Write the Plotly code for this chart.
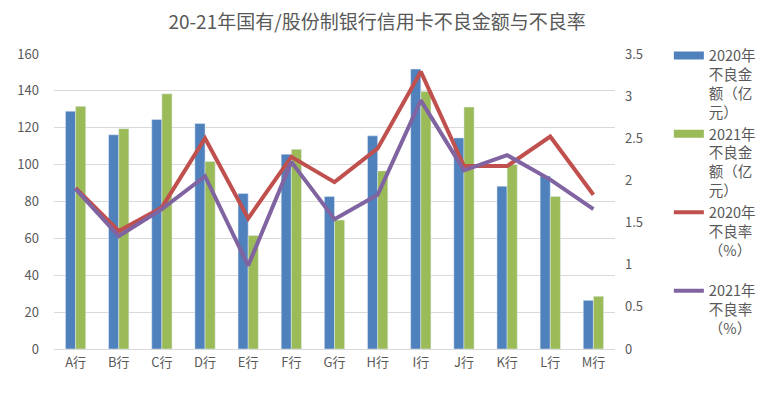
import plotly.graph_objects as go

categories = ["A行", "B行", "C行", "D行", "E行", "F行", "G行", "H行", "I行", "J行", "K行", "L行", "M行"]
amount_2020 = [129, 116.2, 124.5, 122.3, 84.4, 105.6, 82.7, 115.6, 151.8, 114.5, 88.3, 93.8, 26.4]
amount_2021 = [131.6, 119.5, 138.4, 101.7, 61.5, 108.3, 69.9, 96.6, 139.6, 131.2, 100, 82.7, 28.6]
rate_2020 = [1.91, 1.40, 1.68, 2.50, 1.55, 2.28, 1.98, 2.38, 3.29, 2.17, 2.17, 2.52, 1.83]
rate_2021 = [1.90, 1.34, 1.66, 2.05, 0.99, 2.22, 1.54, 1.83, 2.95, 2.12, 2.30, 2.01, 1.66]

names = ["2020年<br>不良金<br>额（亿<br>元）", "2021年<br>不良金<br>额（亿<br>元）",
         "2020年<br>不良率<br>（%）<br> ", "2021年<br>不良率<br>（%）"]

BLUE, GREEN, RED, PURPLE = "#4f81bd", "#9bbb59", "#c0504d", "#8064a2"
GRAY = "#595959"

fig = go.Figure()
fig.add_trace(go.Bar(x=categories, y=amount_2020, marker_color=BLUE, showlegend=False, yaxis="y"))
fig.add_trace(go.Bar(x=categories, y=amount_2021, marker_color=GREEN, showlegend=False, yaxis="y"))
fig.add_trace(go.Scatter(x=categories, y=rate_2020, mode="lines", line=dict(color=RED, width=4),
                         showlegend=False, yaxis="y2"))
fig.add_trace(go.Scatter(x=categories, y=rate_2021, mode="lines", line=dict(color=PURPLE, width=4),
                         showlegend=False, yaxis="y2"))

# legend entries
for nm, col, w in zip(names, [BLUE, GREEN, RED, PURPLE], [8, 8, 4, 4]):
    fig.add_trace(go.Scatter(x=[None], y=[None], mode="lines", name=nm,
                             line=dict(color=col, width=w), yaxis="y2"))

# page body has an 8px margin; figure is sized/offset to compensate
fig.update_layout(
    width=757, height=386,
    margin=dict(l=46, r=150, t=46, b=45, autoexpand=False),
    paper_bgcolor="white", plot_bgcolor="white",
    title=dict(text="20-21年国有/股份制银行信用卡不良金额与不良率", x=0.4875, xanchor="center",
               y=0.964, yanchor="middle",
               font=dict(family="Noto Sans CJK SC", size=19, color=GRAY)),
    font=dict(family="Noto Sans CJK SC", size=13, color=GRAY),
    barmode="group", bargap=0.53, bargroupgap=0,
    xaxis=dict(showgrid=False, showline=True, linecolor="#d9d9d9", linewidth=1,
               ticks="", tickfont=dict(size=13, color=GRAY), ticklabelstandoff=1),
    yaxis=dict(range=[0, 160], dtick=20, showgrid=True, gridcolor="#d9d9d9", gridwidth=1,
               zeroline=False, showline=False, ticks="", tickfont=dict(size=13, color=GRAY),
               ticklabelstandoff=14),
    yaxis2=dict(range=[0, 3.5], dtick=0.5, overlaying="y", side="right", showgrid=False,
                zeroline=False, showline=False, ticks="", tickfont=dict(size=13, color=GRAY),
                ticklabelstandoff=9),
    legend=dict(x=1.096, xanchor="left", y=1.049, yanchor="top", valign="top",
                font=dict(size=14.5, color=GRAY), itemwidth=30, tracegroupgap=0,
                maxheight=380, bgcolor="rgba(0,0,0,0)"),
)

fig.write_html("out.html")
